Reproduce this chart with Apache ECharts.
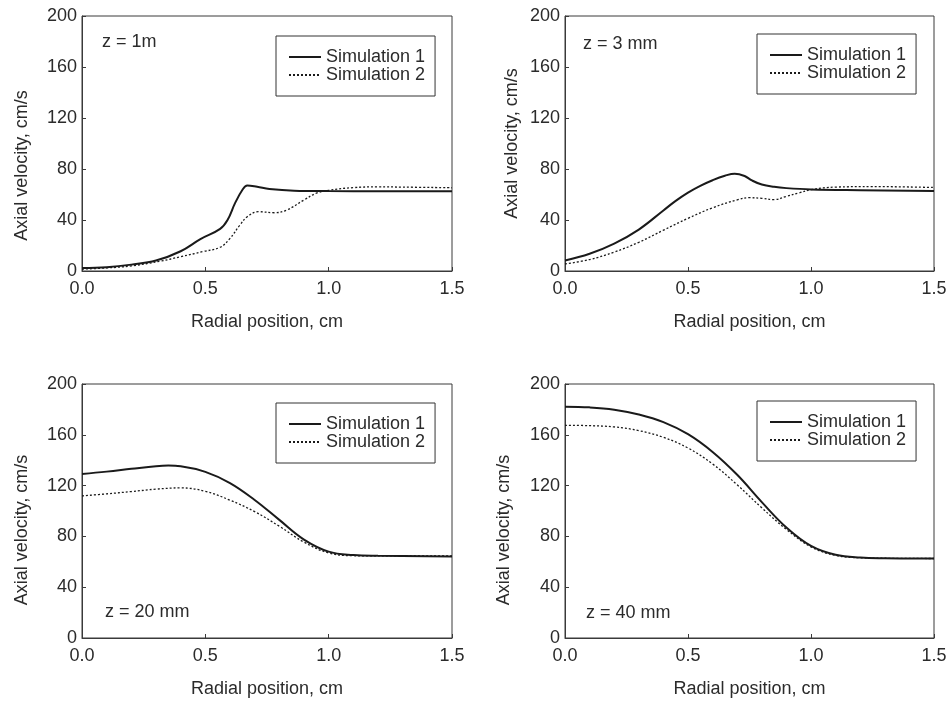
<!DOCTYPE html>
<html>
<head>
<meta charset="utf-8">
<script src="https://cdn.jsdelivr.net/npm/echarts@6/dist/echarts.min.js"></script>
<style>
  html, body { margin: 0; padding: 0; background: #fff; }
  #chart { width: 951px; height: 704px; }
</style>
</head>
<body>
<div id="chart"></div>
<script>
// Axis ranges and ticks
const xRange = [0, 1.5];
const xStep = 0.5;
const yRange = [0, 200];
const yStep = 40;

const seriesNames = ['Simulation 1', 'Simulation 2'];
const panelLabels = ['z = 1m', 'z = 3 mm', 'z = 20 mm', 'z = 40 mm'];
const xTitle = 'Radial position, cm';
const yTitle = 'Axial velocity, cm/s';

// z = 1 m
const z1Sim1R = [0, 0.1, 0.2, 0.3, 0.4, 0.48, 0.56, 0.59, 0.62, 0.65, 0.67, 0.71, 0.76, 0.86, 1.0, 1.2, 1.5];
const z1Sim1V = [2.4, 3, 5, 8.2, 15.5, 25, 33, 40, 53, 63.5, 67, 66, 64.3, 63, 62.7, 62.6, 62.6];
const z1Sim2R = [0, 0.1, 0.2, 0.32, 0.4, 0.49, 0.56, 0.6, 0.64, 0.67, 0.715, 0.78, 0.83, 0.9, 0.95, 1.0, 1.1, 1.2, 1.3, 1.5];
const z1Sim2V = [1.5, 2.4, 4, 7.8, 11.2, 15.2, 18.6, 25.6, 36, 42.6, 46.5, 45.7, 47.8, 55.7, 61, 63.3, 65.4, 66, 65.8, 65.3];

// z = 3 mm
const z3Sim1R = [0, 0.1, 0.2, 0.3, 0.4, 0.45, 0.5, 0.55, 0.6, 0.65, 0.69, 0.73, 0.76, 0.8, 0.85, 0.9, 1.0, 1.2, 1.5];
const z3Sim1V = [8.3, 13.5, 21.5, 32.5, 47.5, 55, 61.5, 66.8, 71.2, 74.7, 76.3, 74.5, 71, 67.8, 66, 65, 64, 63.4, 62.8];
const z3Sim2R = [0, 0.1, 0.2, 0.3, 0.4, 0.5, 0.6, 0.7, 0.75, 0.8, 0.85, 0.9, 0.95, 1.0, 1.1, 1.25, 1.5];
const z3Sim2V = [5.5, 9, 14.8, 22.5, 32, 41.3, 49.6, 55.8, 57.5, 57, 56, 58.5, 61.2, 63.8, 65.8, 66.2, 65.5];

// z = 20 mm
const z20Sim1R = [0, 0.1, 0.2, 0.3, 0.35, 0.4, 0.5, 0.6, 0.7, 0.8, 0.9, 1.0, 1.1, 1.2, 1.5];
const z20Sim1V = [129.2, 131, 133.2, 135.3, 135.8, 135.3, 130.8, 122, 108.7, 93, 77.5, 68, 65.3, 64.7, 64.2];
const z20Sim2R = [0, 0.1, 0.2, 0.3, 0.4, 0.5, 0.6, 0.7, 0.8, 0.9, 1.0, 1.1, 1.3, 1.5];
const z20Sim2V = [111.9, 113.5, 115.3, 117.2, 118.2, 115.5, 108.5, 99.5, 88, 75.5, 67, 64.8, 64.6, 64.6];

// z = 40 mm
const z40Sim1R = [0, 0.1, 0.2, 0.3, 0.4, 0.5, 0.6, 0.7, 0.8, 0.9, 1.0, 1.1, 1.2, 1.3, 1.5];
const z40Sim1V = [182.1, 181.6, 179.8, 176, 170, 160.5, 146.5, 128.5, 107, 87, 72.5, 65.5, 63.3, 62.8, 62.6];
const z40Sim2R = [0, 0.1, 0.2, 0.3, 0.4, 0.5, 0.6, 0.7, 0.8, 0.9, 1.0, 1.1, 1.2, 1.3, 1.5];
const z40Sim2V = [167.5, 167.2, 166.2, 163.3, 158, 149.6, 137, 120.6, 102.5, 85.5, 71.8, 65, 63.2, 62.8, 62.6];

const panels = [
  { r1: z1Sim1R, v1: z1Sim1V, r2: z1Sim2R, v2: z1Sim2V },
  { r1: z3Sim1R, v1: z3Sim1V, r2: z3Sim2R, v2: z3Sim2V },
  { r1: z20Sim1R, v1: z20Sim1V, r2: z20Sim2R, v2: z20Sim2V },
  { r1: z40Sim1R, v1: z40Sim1V, r2: z40Sim2R, v2: z40Sim2V }
];

// Layout of the 2x2 grid of plots
const grids = [
  { left: 82,  top: 16,  width: 370, height: 255 },
  { left: 565, top: 16,  width: 369, height: 255 },
  { left: 82,  top: 384, width: 370, height: 254 },
  { left: 565, top: 384, width: 369, height: 254 }
];
const yNameGap = [51, 44, 51, 52];
const yNameShift = [44, 0, 38, 38];
const legendPos = [
  { left: 276, top: 36 },
  { left: 757, top: 34 },
  { left: 276, top: 403 },
  { left: 757, top: 401 }
];
const labelPos = [
  { left: 102, top: 33 },
  { left: 583, top: 35 },
  { left: 105, top: 603 },
  { left: 586, top: 604 }
];

const FONT = 'Liberation Sans, Arial, Helvetica, sans-serif';
const TEXT = '#2b2b2b';
const AXIS = '#3a3a3a';

const zip = (xs, ys) => xs.map((x, i) => [x, ys[i]]);

const option = {
  animation: false,
  backgroundColor: '#fff',
  textStyle: { fontFamily: FONT },
  grid: grids.map(g => Object.assign({
    show: true, borderColor: AXIS, borderWidth: 1, backgroundColor: 'transparent', containLabel: false
  }, g)),
  xAxis: grids.map((g, i) => ({
    type: 'value', gridIndex: i,
    min: xRange[0], max: xRange[1], interval: xStep,
    name: xTitle, nameLocation: 'middle', nameGap: 42,
    nameTextStyle: { fontSize: 18, color: TEXT, fontFamily: FONT },
    axisLine: { show: true, onZero: false, lineStyle: { color: AXIS, width: 1 } },
    axisTick: { show: true, inside: true, length: 4, lineStyle: { color: AXIS } },
    axisLabel: { fontSize: 18, color: TEXT, margin: 9, fontFamily: FONT,
      formatter: v => v.toFixed(1) },
    splitLine: { show: false }
  })),
  yAxis: grids.map((g, i) => ({
    type: 'value', gridIndex: i,
    min: yRange[0], max: yRange[1], interval: yStep,
    name: yTitle, nameLocation: 'middle', nameGap: yNameGap[i],
    nameTextStyle: { fontSize: 18, color: TEXT, fontFamily: FONT,
      padding: [0, yNameShift[i], 0, 0] },
    axisLine: { show: true, onZero: false, lineStyle: { color: AXIS, width: 1 } },
    axisTick: { show: true, inside: true, length: 4, lineStyle: { color: AXIS } },
    axisLabel: { fontSize: 18, color: TEXT, margin: 5, fontFamily: FONT },
    splitLine: { show: false }
  })),
  legend: legendPos.map(p => ({
    left: p.left, top: p.top,
    orient: 'vertical',
    data: seriesNames,
    itemWidth: 32, itemHeight: 18, itemGap: 0,
    padding: [12, 10, 12, 12],
    borderColor: '#333', borderWidth: 1, backgroundColor: '#fff',
    selectedMode: false,
    itemStyle: { color: 'transparent', borderWidth: 0, opacity: 0 },
    textStyle: { fontSize: 18, color: TEXT, fontFamily: FONT }
  })),
  graphic: panelLabels.map((t, i) => ({
    type: 'text', left: labelPos[i].left, top: labelPos[i].top,
    style: { text: t, fontSize: 18, fill: TEXT, fontFamily: FONT }
  })),
  series: []
};

panels.forEach((p, i) => {
  option.series.push({
    name: seriesNames[0], type: 'line', xAxisIndex: i, yAxisIndex: i,
    data: zip(p.r1, p.v1), showSymbol: false, symbol: 'none',
    smooth: 0.4,
    lineStyle: { color: '#1a1a1a', width: 2, type: 'solid' },
    itemStyle: { color: '#1a1a1a' }, z: 3
  });
  option.series.push({
    name: seriesNames[1], type: 'line', xAxisIndex: i, yAxisIndex: i,
    data: zip(p.r2, p.v2), showSymbol: false, symbol: 'none',
    smooth: 0.4,
    lineStyle: { color: '#1a1a1a', width: 1.3, type: [2, 2] },
    itemStyle: { color: '#1a1a1a' }, z: 2
  });
});

const chart = echarts.init(document.getElementById('chart'), null, { renderer: 'canvas' });
chart.setOption(option);
</script>
</body>
</html>
